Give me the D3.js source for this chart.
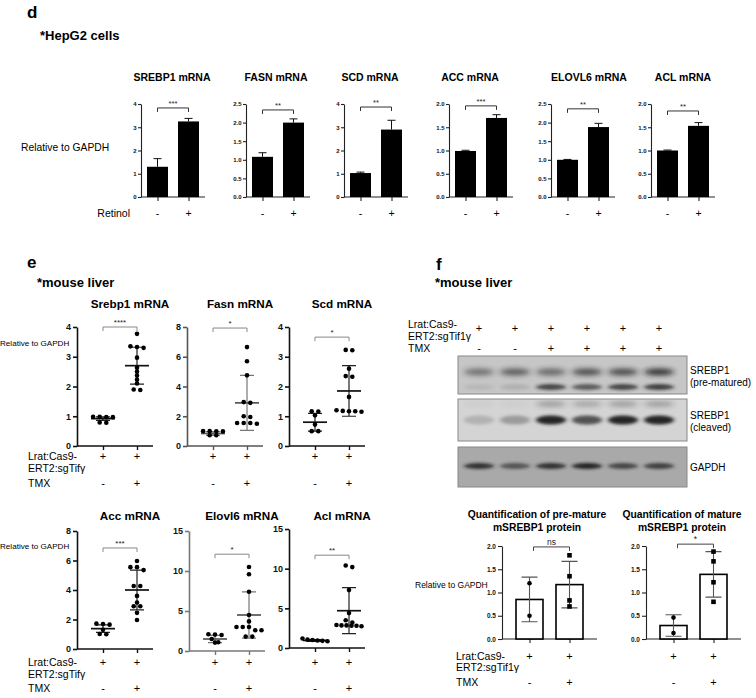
<!DOCTYPE html>
<html>
<head>
<meta charset="utf-8">
<script src="https://cdn.jsdelivr.net/npm/d3@7"></script>
<style>
  body { margin: 0; background: #fff; }
  svg { font-family: 'Liberation Sans', Arial, sans-serif; }
</style>
</head>
<body>
<script>
// ---------- panel d : HepG2 cells
const hepGenes = ['SREBP1 mRNA', 'FASN mRNA', 'SCD mRNA', 'ACC mRNA', 'ELOVL6 mRNA', 'ACL mRNA']
const hepControl = [1.3, 1.08, 1.03, 0.99, 1.0, 1.0]
const hepControlErr = [0.35, 0.11, 0.04, 0.015, 0.01, 0.01]
const hepRetinol = [3.25, 2.0, 2.9, 1.7, 1.88, 1.53]
const hepRetinolErr = [0.13, 0.1, 0.4, 0.07, 0.1, 0.07]
const hepYMax = [4, 2.5, 4, 2.0, 2.5, 2.0]
const hepTickStep = [1, 0.5, 1, 0.5, 0.5, 0.5]
const hepSig = ['***', '**', '**', '***', '**', '**']
const hepSigLevel = [3.83, 2.34, 3.87, 1.96, 2.37, 1.85]
const retinolLabels = ['-', '+']

// ---------- panel e : mouse liver qPCR
const mouseGenes = ['Srebp1 mRNA', 'Fasn mRNA', 'Scd mRNA', 'Acc mRNA', 'Elovl6 mRNA', 'Acl mRNA']
const mouseCtrl = [
  [0.98, 0.97, 0.98, 0.97, 0.79, 0.78],
  [1.0, 0.99, 1.0, 0.98, 0.72, 0.72],
  [1.17, 1.16, 1.03, 0.72, 0.5, 0.5],
  [1.72, 1.7, 1.65, 1.3, 1.0, 1.02],
  [2.1, 2.05, 2.0, 1.5, 1.1, 1.05],
  [0.85, 0.9, 0.95, 1.0, 1.05, 1.2]
]
const mouseTmx = [
  [3.77, 3.33, 3.3, 3.35, 2.97, 2.63, 2.5, 2.37, 2.23, 2.1, 1.9, 1.88],
  [6.65, 5.7, 4.75, 2.95, 2.9, 2.0, 1.95, 1.55, 1.55, 1.5, 1.55],
  [3.23, 3.22, 2.6, 2.35, 2.33, 1.65, 1.18, 1.17, 1.15, 1.17, 1.2],
  [5.97, 5.55, 5.55, 5.35, 4.27, 4.27, 3.6, 3.15, 2.9, 2.9, 2.45, 1.97],
  [10.5, 9.6, 7.4, 4.5, 3.7, 3.0, 3.0, 3.0, 2.6, 2.6, 1.8, 1.8],
  [10.4, 10.2, 7.3, 4.4, 3.5, 3.2, 2.9, 2.85, 2.85, 2.8, 2.8, 2.75]
]
const mouseCtrlMean = [0.92, 0.84, 0.8, 1.38, 1.5, 0.95]
const mouseCtrlSd = [0.06, 0.13, 0.3, 0.25, 0.45, 0.12]
const mouseTmxMean = [2.7, 2.9, 1.85, 4.0, 4.5, 4.7]
const mouseTmxSd = [0.62, 1.85, 0.85, 1.35, 2.9, 2.9]
const mouseYMax = [4, 8, 4, 8, 15, 15]
const mouseTickStep = [1, 2, 1, 2, 5, 5]
const mouseSig = ['****', '*', '*', '***', '*', '**']
const mouseSigLevel = [4.0, 7.93, 3.66, 6.85, 12.1, 11.7]

// ---------- panel f : western blot + quantification
const laneLrat = ['+', '+', '+', '+', '+', '+']
const laneTmx = ['-', '-', '+', '+', '+', '+']
const preUpperBand = [0.5, 0.62, 0.55, 0.7, 0.72, 0.85]
const preLowerBand = [0.08, 0.12, 0.75, 0.62, 0.75, 0.78]
const cleavedBand = [0.18, 0.3, 0.95, 0.7, 0.95, 0.95]
const cleavedFaintBand = [0.05, 0.05, 0.35, 0.3, 0.35, 0.35]
const gapdhBand = [0.85, 0.6, 0.85, 0.95, 0.7, 0.75]

const protTitles = [['Quantification of pre-mature', 'mSREBP1 protein'], ['Quantification of mature', 'mSREBP1 protein']]
const protCtrlPts = [[1.2, 0.5], [0.46, 0.13]]
const protTmxPts = [[1.8, 1.35, 0.83, 0.7], [1.88, 1.67, 1.22, 0.8]]
const protCtrlMean = [0.85, 0.29]
const protCtrlSd = [0.48, 0.23]
const protTmxMean = [1.17, 1.39]
const protTmxSd = [0.5, 0.49]
const protSig = ['ns', '*']
const protSigLevel = [1.98, 2.04]

const svg = d3.select('body').append('svg')
  .attr('width', 756)
  .attr('height', 698)

function label(x, y, str, size, opts = {}) {
  return svg.append('text')
    .attr('x', x)
    .attr('y', y)
    .attr('font-size', size)
    .attr('font-weight', opts.bold ? 'bold' : 'normal')
    .attr('text-anchor', opts.anchor || 'start')
    .attr('fill', opts.color || '#000')
    .text(str)
}

function bracket(g, x1, x2, yy, txt, color, size) {
  g.append('path')
    .attr('d', `M${x1},${yy + 4}V${yy}H${x2}V${yy + 4}`)
    .attr('fill', 'none')
    .attr('stroke', color)
    .attr('stroke-width', 1)
  g.append('text')
    .attr('x', (x1 + x2) / 2)
    .attr('y', yy - 2)
    .attr('text-anchor', 'middle')
    .attr('font-size', size)
    .attr('fill', '#222')
    .text(txt)
}

function styleAxis(sel, color, width, fontSize) {
  sel.select('.domain').attr('stroke', color).attr('stroke-width', width)
  sel.selectAll('.tick line').attr('stroke', color).attr('stroke-width', width)
  sel.selectAll('.tick text')
    .attr('font-size', fontSize)
    .attr('font-weight', 'bold')
    .attr('fill', '#111')
    .attr('font-family', 'Liberation Sans, Arial, sans-serif')
}

// ================= panel d
label(27, 18, 'd', 17, { bold: true })
label(40, 40, '*HepG2 cells', 13, { bold: true })
label(21, 151, 'Relative to GAPDH', 10.3)
label(130, 217, 'Retinol', 10.5, { anchor: 'end' })

let hepAxisX = [141, 246, 344, 449, 551, 651]
let hepTitleX = [172, 276, 370, 470, 589, 683]
let hepTop = 104
let hepBottom = 197

hepGenes.forEach((gene, i) => {
  let x0 = hepAxisX[i]
  let g = svg.append('g')
  let y = d3.scaleLinear().domain([0, hepYMax[i]]).range([hepBottom, hepTop])
  let x = d3.scalePoint().domain(retinolLabels).range([x0 + 16.5, x0 + 47.5])
  let fmt = hepTickStep[i] < 1 ? d3.format('.1f') : d3.format('d')

  label(hepTitleX[i], 81, gene, 10.5, { bold: true, anchor: 'middle' })

  let yAxis = g.append('g')
    .attr('transform', `translate(${x0},0)`)
    .call(d3.axisLeft(y)
      .tickValues(d3.range(0, hepYMax[i] + 1e-6, hepTickStep[i]))
      .tickSize(3)
      .tickSizeOuter(0)
      .tickPadding(1.5)
      .tickFormat(fmt))
  styleAxis(yAxis, '#222', 1.1, 6)

  let xAxis = g.append('g')
    .attr('transform', `translate(0,${hepBottom})`)
    .call(d3.axisBottom(x).tickSize(4).tickSizeOuter(0).tickFormat(''))
  xAxis.select('.domain').remove()
  styleAxis(xAxis, '#222', 1.1, 6)
  g.append('line')
    .attr('x1', x0).attr('x2', x0 + 64)
    .attr('y1', hepBottom).attr('y2', hepBottom)
    .attr('stroke', '#222').attr('stroke-width', 1.1)

  let bars = [
    { k: '-', v: hepControl[i], e: hepControlErr[i] },
    { k: '+', v: hepRetinol[i], e: hepRetinolErr[i] }
  ]
  g.selectAll('.err')
    .data(bars)
    .enter()
    .append('path')
    .attr('d', d => `M${x(d.k)},${y(d.v)}V${y(d.v + d.e)}M${x(d.k) - 4},${y(d.v + d.e)}H${x(d.k) + 4}`)
    .attr('stroke', '#111')
    .attr('stroke-width', 1)
    .attr('fill', 'none')
  g.selectAll('.bar')
    .data(bars)
    .enter()
    .append('rect')
    .attr('x', d => x(d.k) - 10.5)
    .attr('width', 21)
    .attr('y', d => y(d.v))
    .attr('height', d => hepBottom - y(d.v))
    .attr('fill', '#000')

  retinolLabels.forEach(k => {
    label(x(k), 217, k, 10.5, { anchor: 'middle' })
  })

  bracket(g, x('-'), x('+'), y(hepSigLevel[i]), hepSig[i], '#333', 7.5)
})

// ================= panel e
label(27, 268, 'e', 17, { bold: true })
label(37, 287, '*mouse liver', 13, { bold: true })

let eLayout = [
  { x0: 77, top: 327, bottom: 446, color: '#111' },
  { x0: 187, top: 327, bottom: 446, color: '#555' },
  { x0: 289, top: 327, bottom: 446, color: '#111' },
  { x0: 77, top: 531, bottom: 649, color: '#111' },
  { x0: 189, top: 531, bottom: 651, color: '#777' },
  { x0: 289, top: 529, bottom: 648, color: '#111' }
]
let groups = ['ctrl', 'tmx']

// Prism-like scatter: points with nearly equal value share a row and are spread sideways
function swarm(values, y, gap) {
  let sorted = values.slice().sort((a, b) => b - a)
  let rows = []
  sorted.forEach(v => {
    let last = rows[rows.length - 1]
    if (last && last.length < 6 && Math.abs(y(last[0]) - y(v)) < 3.5) last.push(v)
    else rows.push([v])
  })
  let out = []
  rows.forEach(r => {
    let step = r.length > 4 ? Math.min(gap, 25 / (r.length - 1)) : gap
    r.forEach((v, j) => out.push({ v: v, dx: (j - (r.length - 1) / 2) * step }))
  })
  return out
}

mouseGenes.forEach((gene, i) => {
  let L = eLayout[i]
  let g = svg.append('g')
  let y = d3.scaleLinear().domain([0, mouseYMax[i]]).range([L.bottom, L.top])
  let x = d3.scalePoint().domain(groups).range([L.x0 + 26, L.x0 + 60])
  let row = i < 3 ? 0 : 1

  label(L.x0 + 53, row === 0 ? 308 : 520, gene, 11.7, { bold: true, anchor: 'middle' })

  let yAxis = g.append('g')
    .attr('transform', `translate(${L.x0},0)`)
    .call(d3.axisLeft(y)
      .tickValues(d3.range(0, mouseYMax[i] + 1e-6, mouseTickStep[i]))
      .tickSize(4)
      .tickSizeOuter(0)
      .tickPadding(2)
      .tickFormat(d3.format('d')))
  styleAxis(yAxis, L.color, 1.6, 9)

  let xAxis = g.append('g')
    .attr('transform', `translate(0,${L.bottom})`)
    .call(d3.axisBottom(x).tickSize(4).tickSizeOuter(0).tickFormat(''))
  xAxis.select('.domain').remove()
  styleAxis(xAxis, L.color, 1.4, 8)
  g.append('line')
    .attr('x1', L.x0).attr('x2', L.x0 + 76)
    .attr('y1', L.bottom).attr('y2', L.bottom)
    .attr('stroke', L.color).attr('stroke-width', 1.6)

  let sets = [
    { k: 'ctrl', pts: mouseCtrl[i], m: mouseCtrlMean[i], s: mouseCtrlSd[i] },
    { k: 'tmx', pts: mouseTmx[i], m: mouseTmxMean[i], s: mouseTmxSd[i] }
  ]
  sets.forEach(set => {
    let cx = x(set.k)
    g.append('path')
      .attr('d', `M${cx},${y(set.m - set.s)}V${y(set.m + set.s)}` +
        `M${cx - 7},${y(set.m + set.s)}H${cx + 7}M${cx - 7},${y(set.m - set.s)}H${cx + 7}`)
      .attr('stroke', L.color === '#111' ? '#222' : '#777')
      .attr('stroke-width', 1.2)
      .attr('fill', 'none')
    g.append('line')
      .attr('x1', cx - 12).attr('x2', cx + 12)
      .attr('y1', y(set.m)).attr('y2', y(set.m))
      .attr('stroke', L.color === '#111' ? '#111' : '#555')
      .attr('stroke-width', 1.7)
    g.selectAll('.pt-' + set.k)
      .data(swarm(set.pts, y, 6.6))
      .enter()
      .append('circle')
      .attr('cx', d => cx + d.dx)
      .attr('cy', d => y(d.v))
      .attr('r', 2.3)
      .attr('fill', '#000')
  })

  bracket(g, x('ctrl'), x('tmx'), y(mouseSigLevel[i]), mouseSig[i], '#888', 8)

  let yLrat = row === 0 ? 460 : 666
  let yTmx = row === 0 ? 487 : 692
  groups.forEach((k, j) => {
    label(x(k), yLrat, '+', 11, { anchor: 'middle' })
    label(x(k), yTmx, j === 0 ? '-' : '+', 11, { anchor: 'middle' })
  })
})

label(0, 346, 'Relative to GAPDH', 8.1)
label(0, 549, 'Relative to GAPDH', 8.1)
;[[460, 472, 487], [666, 678, 692]].forEach(r => {
  label(28, r[0], 'Lrat:Cas9-', 10.5)
  label(28, r[1], 'ERT2:sgTifγ', 10.5)
  label(28, r[2], 'TMX', 10.5)
})

// ================= panel f
label(436, 270, 'f', 17, { bold: true })
label(435, 287, '*mouse liver', 13, { bold: true })

let lane = d3.scalePoint().domain(d3.range(6)).range([479, 659])
label(408, 328, 'Lrat:Cas9-', 10.5)
label(408, 340, 'ERT2:sgTif1γ', 10.5)
label(408, 352, 'TMX', 10.5)
laneLrat.forEach((s, j) => label(lane(j), 332, s, 11, { anchor: 'middle' }))
laneTmx.forEach((s, j) => label(lane(j), 352, s, 11, { anchor: 'middle' }))

let defs = svg.append('defs')
defs.append('filter').attr('id', 'blur')
  .attr('x', '-30%').attr('y', '-100%').attr('width', '160%').attr('height', '300%')
  .append('feGaussianBlur').attr('stdDeviation', '2 1.6')
defs.append('filter').attr('id', 'blurSoft')
  .attr('x', '-30%').attr('y', '-100%').attr('width', '160%').attr('height', '300%')
  .append('feGaussianBlur').attr('stdDeviation', '3 2.5')

let blots = [
  { y0: 356, y1: 394, bg: '#c6c6c6', bands: [{ vals: preUpperBand, cy: 372, ry: 3.5, f: 'blurSoft' }, { vals: preLowerBand, cy: 387, ry: 3, f: 'blur' }], text: ['SREBP1', '(pre-matured)'] },
  { y0: 399, y1: 441, bg: '#d4d4d4', bands: [{ vals: cleavedFaintBand, cy: 404, ry: 2.5, f: 'blurSoft' }, { vals: cleavedBand, cy: 420, ry: 4.5, f: 'blur' }], text: ['SREBP1', '(cleaved)'] },
  { y0: 447, y1: 487, bg: '#a9a9a9', bands: [{ vals: gapdhBand, cy: 466, ry: 3, f: 'blur' }], text: ['GAPDH'] }
]
blots.forEach(b => {
  let g = svg.append('g')
  g.append('rect')
    .attr('x', 458).attr('y', b.y0)
    .attr('width', 229).attr('height', b.y1 - b.y0)
    .attr('fill', b.bg)
    .attr('stroke', '#888').attr('stroke-width', 1)
  let clip = 'clip' + b.y0
  defs.append('clipPath').attr('id', clip)
    .append('rect').attr('x', 459).attr('y', b.y0 + 1).attr('width', 227).attr('height', b.y1 - b.y0 - 2)
  let inner = g.append('g').attr('clip-path', `url(#${clip})`)
  b.bands.forEach(band => {
    inner.selectAll('.band')
      .data(band.vals)
      .enter()
      .append('ellipse')
      .attr('cx', (d, j) => lane(j))
      .attr('cy', band.cy)
      .attr('rx', 15)
      .attr('ry', band.ry)
      .attr('fill', '#1a1a1a')
      .attr('opacity', d => d)
      .attr('filter', `url(#${band.f})`)
  })
  if (b.text.length === 2) {
    label(690, (b.y0 + b.y1) / 2 - 1, b.text[0], 10)
    label(690, (b.y0 + b.y1) / 2 + 11, b.text[1], 10)
  } else {
    label(690, (b.y0 + b.y1) / 2 + 4, b.text[0], 10)
  }
})

// quantification bar charts
let fAxisX = [502, 646]
let fTitleX = [537, 682]
let fTop = 546
let fBottom = 639
protTitles.forEach((t, i) => {
  let x0 = fAxisX[i]
  let g = svg.append('g')
  let y = d3.scaleLinear().domain([0, 2]).range([fBottom, fTop])
  let x = d3.scalePoint().domain(groups).range([x0 + 27.5, x0 + 67.5])

  label(fTitleX[i], 518, t[0], 10.3, { bold: true, anchor: 'middle' })
  label(fTitleX[i], 531, t[1], 10.3, { bold: true, anchor: 'middle' })

  let yAxis = g.append('g')
    .attr('transform', `translate(${x0},0)`)
    .call(d3.axisLeft(y)
      .tickValues(d3.range(0, 2.01, 0.5))
      .tickSize(4)
      .tickSizeOuter(0)
      .tickPadding(2)
      .tickFormat(d3.format('.1f')))
  styleAxis(yAxis, '#222', 1.1, 6.5)

  let xAxis = g.append('g')
    .attr('transform', `translate(0,${fBottom})`)
    .call(d3.axisBottom(x).tickSize(4).tickSizeOuter(0).tickFormat(''))
  xAxis.select('.domain').remove()
  styleAxis(xAxis, '#222', 1.1, 6)
  g.append('line')
    .attr('x1', x0).attr('x2', x0 + 95)
    .attr('y1', fBottom).attr('y2', fBottom)
    .attr('stroke', '#222').attr('stroke-width', 1.1)

  let sets = [
    { k: 'ctrl', pts: protCtrlPts[i], m: protCtrlMean[i], s: protCtrlSd[i] },
    { k: 'tmx', pts: protTmxPts[i], m: protTmxMean[i], s: protTmxSd[i] }
  ]
  sets.forEach(set => {
    let cx = x(set.k)
    g.append('rect')
      .attr('x', cx - 13.5)
      .attr('width', 27)
      .attr('y', y(set.m))
      .attr('height', fBottom - y(set.m))
      .attr('fill', '#fff')
      .attr('stroke', '#000')
      .attr('stroke-width', 1.6)
    g.append('path')
      .attr('d', `M${cx},${y(set.m - set.s)}V${y(set.m + set.s)}` +
        `M${cx - 8},${y(set.m + set.s)}H${cx + 8}M${cx - 8},${y(set.m - set.s)}H${cx + 8}`)
      .attr('stroke', '#555')
      .attr('stroke-width', 1.1)
      .attr('fill', 'none')
  })
  g.selectAll('.c')
    .data(protCtrlPts[i])
    .enter()
    .append('circle')
    .attr('cx', x('ctrl'))
    .attr('cy', d => y(d))
    .attr('r', 2.3)
    .attr('fill', '#000')
  g.selectAll('.s')
    .data(protTmxPts[i])
    .enter()
    .append('rect')
    .attr('x', x('tmx') - 2.3)
    .attr('y', d => y(d) - 2.3)
    .attr('width', 4.6)
    .attr('height', 4.6)
    .attr('fill', '#000')

  bracket(g, x('ctrl') + 4, x('tmx'), y(protSigLevel[i]), protSig[i], '#444', 8.5)

  groups.forEach((k, j) => {
    label(x(k), 660, '+', 11, { anchor: 'middle' })
    label(x(k), 686, j === 0 ? '-' : '+', 11, { anchor: 'middle' })
  })
})
label(415, 588, 'Relative to GAPDH', 8.5)
label(456, 660, 'Lrat:Cas9-', 10.5)
label(456, 671, 'ERT2:sgTif1γ', 10.5)
label(456, 686, 'TMX', 10.5)
</script>
</body>
</html>
